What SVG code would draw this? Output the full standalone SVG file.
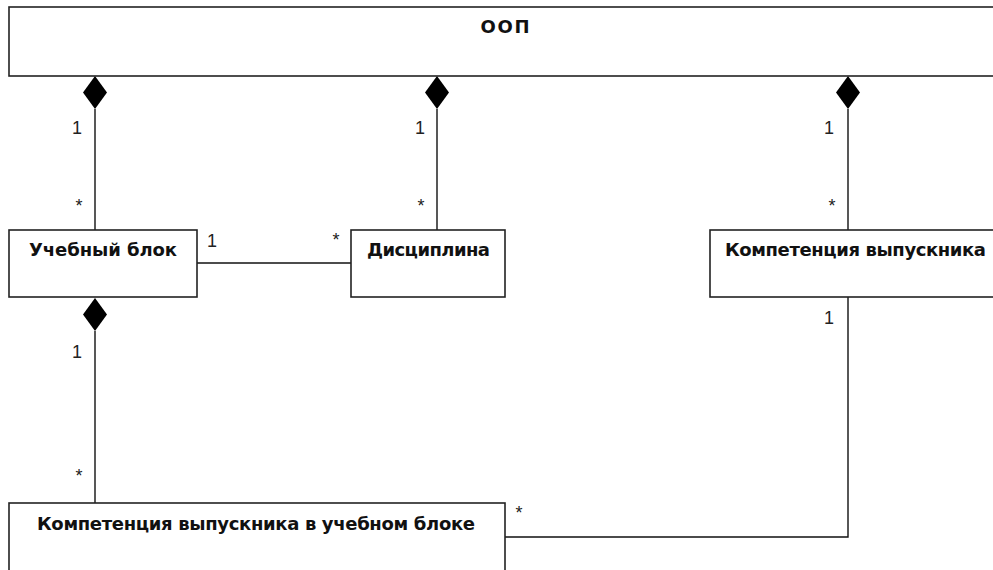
<svg xmlns="http://www.w3.org/2000/svg" width="993" height="570" viewBox="0 0 993 570">
<style>
.box{fill:#fff;stroke:#222;stroke-width:1.6}
.ln{fill:none;stroke:#111;stroke-width:1.4}
.dia{fill:#000;stroke:none}
.t{font-family:"DejaVu Sans","Liberation Sans",sans-serif;font-weight:bold;font-size:18px;fill:#111;text-anchor:middle}
.m{font-family:"Liberation Sans",Arial,sans-serif;font-size:18px;fill:#222;text-anchor:middle}
</style>
<rect width="993" height="570" fill="#fff"/>
<g id="connectors">
<polygon class="dia" points="95,76 107,92.5 95,109 83,92.5"/>
<line class="ln" x1="95" y1="109" x2="95" y2="230"/>
<polygon class="dia" points="437,76 449,92.5 437,109 425,92.5"/>
<line class="ln" x1="437" y1="109" x2="437" y2="230"/>
<polygon class="dia" points="848,76 860,92.5 848,109 836,92.5"/>
<line class="ln" x1="848" y1="109" x2="848" y2="230"/>
<line class="ln" x1="197" y1="263" x2="351" y2="263"/>
<polygon class="dia" points="95,298 107,314.5 95,331 83,314.5"/>
<line class="ln" x1="95" y1="331" x2="95" y2="503"/>
<polyline class="ln" points="848,297 848,537 505,537"/>
<text class="m" x="77" y="134">1</text>
<text class="m" x="79" y="212">*</text>
<text class="m" x="420" y="134">1</text>
<text class="m" x="421" y="212">*</text>
<text class="m" x="829" y="134">1</text>
<text class="m" x="832" y="212">*</text>
<text class="m" x="212" y="247">1</text>
<text class="m" x="336" y="246">*</text>
<text class="m" x="77" y="358">1</text>
<text class="m" x="79" y="482">*</text>
<text class="m" x="829" y="324">1</text>
<text class="m" x="519" y="519">*</text>
</g>
<g id="oop">
<rect class="box" x="9" y="7" width="1000" height="69"/>
<text class="t" x="505" y="33" textLength="49">ООП</text>
</g>
<g id="uchebny-blok">
<rect class="box" x="9" y="230" width="188" height="67"/>
<text class="t" x="103" y="256" textLength="148">Учебный блок</text>
</g>
<g id="disciplina">
<rect class="box" x="351" y="230" width="154" height="67"/>
<text class="t" x="428.5" y="256" textLength="123">Дисциплина</text>
</g>
<g id="kompetenciya">
<rect class="box" x="710" y="230" width="300" height="67"/>
<text class="t" x="855.5" y="256" textLength="261">Компетенция выпускника</text>
</g>
<g id="kompetenciya-v-bloke">
<rect class="box" x="9" y="503" width="496" height="80"/>
<text class="t" x="256" y="530" textLength="438">Компетенция выпускника в учебном блоке</text>
</g>
</svg>
